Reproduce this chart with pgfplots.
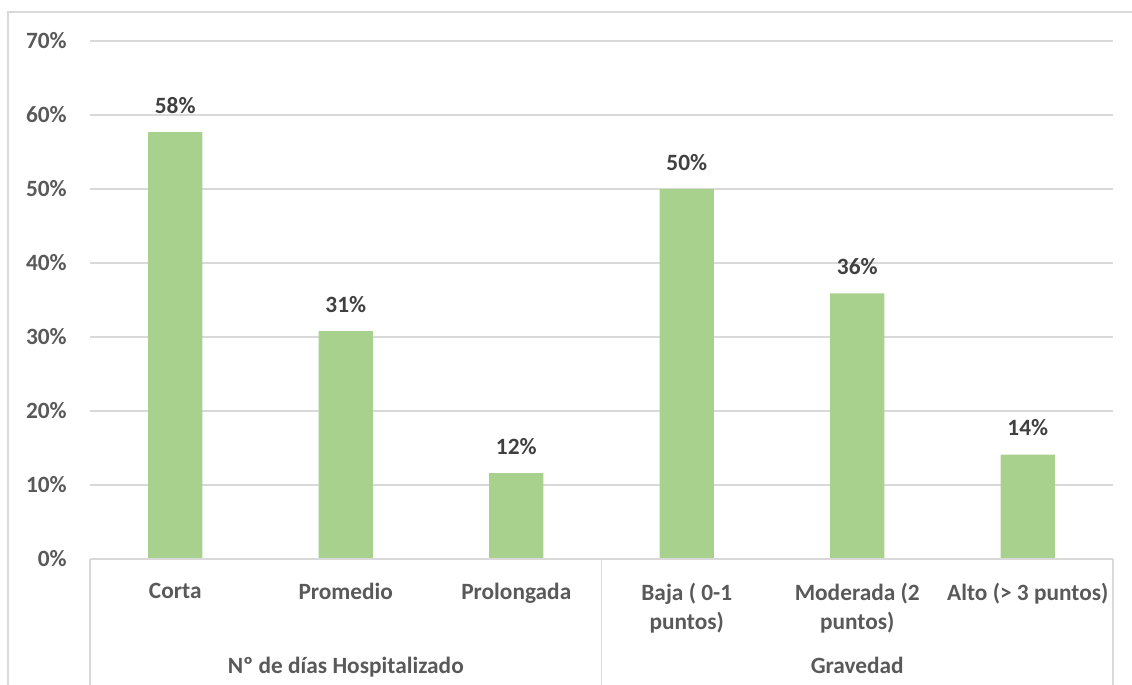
\documentclass[border=0pt]{standalone}
\usepackage{fontspec}
\setmainfont{Carlito}
\usepackage{pgfplots}
\pgfplotsset{compat=1.18}

\definecolor{bargreen}{HTML}{A9D18E}
\definecolor{gridgray}{HTML}{D9D9D9}
\definecolor{ticktext}{HTML}{595959}
\definecolor{labeltext}{HTML}{404040}

\newcommand{\chartfont}{\fontsize{17.5}{21.5}\selectfont\bfseries}

\begin{document}
\begin{tikzpicture}
% page frame and chart area border
\useasboundingbox (-67.5pt,-94.5pt) rectangle (781.5pt,419.25pt);
\draw[gridgray, line width=0.9pt] (-61.5pt,-110pt) -- (-61.5pt,410.25pt) -- (800pt,410.25pt);

\begin{axis}[
  at={(0,0)}, anchor=south west,
  scale only axis,
  width=767.25pt, height=388.5pt,
  xmin=-0.5, xmax=5.5,
  ymin=0, ymax=70,
  clip=false,
  axis line style={draw=none},
  major tick length=0pt,
  ybar,
  bar width=0.317,
  ytick={0,10,...,70},
  ymajorgrids,
  grid style={gridgray, line width=1.2pt},
  /pgf/number format/assume math mode=true,
  yticklabel={\pgfmathprintnumber{\tick}\%},
  yticklabel style={anchor=east, inner sep=0pt, xshift=-17.25pt, font=\chartfont, text=ticktext},
  xtick={0,1,2,3,4,5},
  xticklabels={Corta, Promedio, Prolongada, {Baja ( 0-1\\puntos)}, {Moderada (2\\puntos)}, {Alto (> 3 puntos)}},
  xticklabel style={align=center, anchor=north, inner sep=0pt, yshift=-18pt, font=\chartfont, text=ticktext},
  nodes near coords={\pgfmathprintnumber[fixed,precision=0]{\pgfplotspointmeta}\%},
  every node near coord/.append style={anchor=base, inner sep=0pt, yshift=14.25pt, font=\chartfont, text=labeltext},
]
\addplot[fill=bargreen, draw=none] coordinates {
  (0,57.7) (1,30.8) (2,11.6) (3,50.0) (4,35.9) (5,14.1)
};

% category axis line and group separators
\draw[gridgray, line width=1.2pt] (axis cs:-0.5,0) -- (axis cs:5.5,0);
\draw[gridgray, line width=1.2pt] (axis cs:-0.5,0) -- ([yshift=-110pt]axis cs:-0.5,0);
\draw[gridgray, line width=1.2pt] (axis cs:2.5,0) -- ([yshift=-110pt]axis cs:2.5,0);
\draw[gridgray, line width=1.2pt] (axis cs:5.5,0) -- ([yshift=-110pt]axis cs:5.5,0);

% group labels
\node[anchor=base, inner sep=0pt, font=\chartfont, text=ticktext] at ([yshift=-85.5pt]axis cs:1,0) {Nº de días Hospitalizado};
\node[anchor=base, inner sep=0pt, font=\chartfont, text=ticktext] at ([yshift=-85.5pt]axis cs:4,0) {Gravedad};
\end{axis}
\end{tikzpicture}
\end{document}
